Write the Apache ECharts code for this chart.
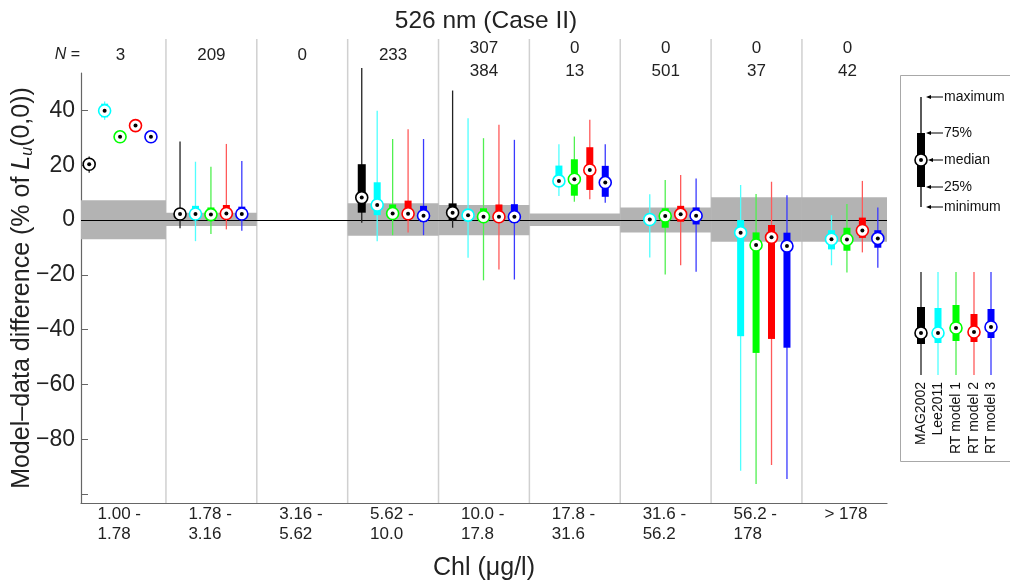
<!DOCTYPE html>
<html>
<head>
<meta charset="utf-8">
<script src="https://cdn.jsdelivr.net/npm/echarts@6.0.0/dist/echarts.min.js"></script>
<style>
  html, body { margin: 0; padding: 0; background: #fff; }
  #chart { width: 1010px; height: 585px; }
</style>
</head>
<body>
<div id="chart"></div>
<script>
// Chl bins (x categories)
var chlBins = ['1.00 -\n1.78', '1.78 -\n3.16', '3.16 -\n5.62', '5.62 -\n10.0', '10.0 -\n17.8',
               '17.8 -\n31.6', '31.6 -\n56.2', '56.2 -\n178', '> 178'];
// N counts per bin (two rows where given)
var nTop = ['3', '209', '0', '233', '307', '0', '0', '0', '0'];
var nBottom = ['', '', '', '', '384', '13', '501', '37', '42'];
// grey uncertainty band per bin [low, high]
var bandLo = [-7.0, -2.2, null, -5.7, -5.5, -2.2, -4.5, -7.9, -7.9];
var bandHi = [7.2, 2.7, null, 6.1, 5.5, 2.4, 4.6, 8.3, 8.3];

// box stats per bin: [min, q1, median, q3, max]
var mag2002 = [[17.3, 19.3, 20.4, 21.6, 23.2], [-3.0, 0.8, 2.2, 3.8, 28.7], null,
               [-1.0, 2.7, 8.2, 20.4, 55.5], [-2.8, 0.0, 2.7, 6.1, 47.3], null, null, null, null];
var lee2011 = [[36.6, 37.5, 39.9, 42.5, 43.3], [-7.7, 0.5, 2.2, 5.2, 21.3], null,
               [-7.7, 1.8, 5.5, 13.8, 39.9], [-13.8, 0.5, 1.8, 3.0, 37.2], [8.8, 12.2, 14.3, 19.9, 27.7],
               [-13.7, -1.0, 0.2, 1.8, 9.4], [-91.5, -42.4, -4.6, 0.0, 12.8], [-16.5, -10.7, -7.0, -3.7, 1.8]];
var rtModel1 = [[29.2, 29.5, 30.4, 32.3, 32.9], [-5.1, 0.5, 2.0, 4.6, 19.5], null,
                [-5.5, 0.5, 2.4, 5.7, 29.6], [-22.0, -0.6, 1.2, 4.3, 29.9], [6.7, 8.9, 14.9, 22.2, 30.5],
                [-19.9, -2.8, 1.5, 4.3, 14.6], [-96.4, -48.5, -9.1, -4.5, 9.5], [-19.1, -11.2, -7.1, -2.8, 5.9]];
var rtModel2 = [[33.2, 33.5, 34.5, 35.8, 36.3], [-3.4, 0.5, 2.4, 5.5, 27.8], null,
                [-4.5, 1.2, 2.3, 7.1, 33.2], [-18.0, -0.5, 1.2, 5.7, 34.8], [7.6, 11.0, 18.3, 26.6, 36.6],
                [-16.5, -0.6, 2.1, 5.2, 16.5], [-89.4, -43.4, -6.3, -1.8, 14.0], [-11.8, -6.5, -3.8, 0.9, 14.3]];
var rtModel3 = [[29.5, 29.6, 30.4, 31.2, 31.3], [-3.9, 0.3, 2.2, 4.9, 21.6], null,
                [-5.5, -0.6, 1.6, 5.2, 29.6], [-21.7, -1.0, 1.2, 5.8, 29.3], [6.3, 8.5, 13.7, 19.8, 27.7],
                [-18.9, -1.6, 1.6, 4.6, 15.2], [-94.5, -46.6, -9.5, -4.6, 9.1], [-17.4, -10.1, -6.7, -3.7, 4.6]];

var modelNames = ['MAG2002', 'Lee2011', 'RT model 1', 'RT model 2', 'RT model 3'];
var modelData = [mag2002, lee2011, rtModel1, rtModel2, rtModel3];
var modelColors = ['#000000', '#00ffff', '#00ff00', '#ff0000', '#0000ff'];
var whiskerColors = ['#222222', '#50ffff', '#50f050', '#ff5a5a', '#3a3aff'];
var boxOffsets = [-0.345, -0.175, -0.005, 0.165, 0.335];

var FONT = '"Liberation Sans", Arial, Helvetica, sans-serif';

function toRows(arr) {
    var rows = [];
    for (var i = 0; i < arr.length; i++) {
        if (arr[i]) rows.push([i].concat(arr[i]));
    }
    return rows;
}

function boxRenderer(k) {
    return function (params, api) {
        var x = api.value(0) + 0.5 + boxOffsets[k];
        var lo = api.coord([x, api.value(1)]);
        var q1 = api.coord([x, api.value(2)]);
        var med = api.coord([x, api.value(3)]);
        var q3 = api.coord([x, api.value(4)]);
        var hi = api.coord([x, api.value(5)]);
        var w = k === 0 ? 8 : 7;
        return {
            type: 'group',
            children: [
                {type: 'line', shape: {x1: lo[0], y1: lo[1], x2: hi[0], y2: hi[1]},
                 style: {stroke: whiskerColors[k], lineWidth: 1.3}},
                {type: 'rect', shape: {x: q3[0] - w / 2, y: q3[1], width: w, height: q1[1] - q3[1]},
                 style: {fill: modelColors[k]}},
                {type: 'circle', shape: {cx: med[0], cy: med[1], r: 6},
                 style: {fill: '#fff', stroke: modelColors[k], lineWidth: 1.6}},
                {type: 'circle', shape: {cx: med[0], cy: med[1], r: 2}, style: {fill: '#000'}}
            ]
        };
    };
}

var series = [];

// bin separators
series.push({
    type: 'custom', silent: true, z: 1,
    data: [[1], [2], [3], [4], [5], [6], [7], [8]],
    renderItem: function (params, api) {
        var p = api.coord([api.value(0), 0]);
        var bottom = params.coordSys.y + params.coordSys.height;
        return {type: 'line', shape: {x1: p[0], y1: 39, x2: p[0], y2: bottom},
                style: {stroke: '#d0d0d0', lineWidth: 1.5}};
    }
});

// grey band + zero line
var bandRows = [];
for (var i = 0; i < bandLo.length; i++) {
    if (bandLo[i] !== null) bandRows.push([i, bandLo[i], bandHi[i]]);
}
series.push({
    type: 'custom', silent: true, z: 2, clip: true,
    data: bandRows,
    renderItem: function (params, api) {
        var i = api.value(0);
        var a = api.coord([i, api.value(2)]);
        var b = api.coord([i + 1, api.value(1)]);
        return {type: 'rect', shape: {x: a[0], y: a[1], width: b[0] - a[0], height: b[1] - a[1]},
                style: {fill: '#b3b3b3'}};
    },
    markLine: {
        silent: true, symbol: 'none', animation: false,
        label: {show: false},
        lineStyle: {color: '#000', width: 1, type: 'solid'},
        data: [{yAxis: 0}]
    }
});

// N labels above the plot
series.push({
    type: 'custom', silent: true, z: 3,
    data: chlBins.map(function (c, i) { return [i]; }),
    renderItem: function (params, api) {
        var i = api.value(0);
        var cx = api.coord([i + 0.5, 0])[0];
        var txtStyle = {fontSize: 17, fontFamily: FONT, fill: '#222', align: 'center', verticalAlign: 'middle'};
        var kids = [];
        if (nBottom[i]) {
            kids.push({type: 'text', x: cx, y: 48, style: Object.assign({text: nTop[i]}, txtStyle)});
            kids.push({type: 'text', x: cx, y: 71, style: Object.assign({text: nBottom[i]}, txtStyle)});
        } else {
            kids.push({type: 'text', x: cx, y: 55, style: Object.assign({text: nTop[i]}, txtStyle)});
        }
        return {type: 'group', children: kids};
    }
});

for (var k = 0; k < modelData.length; k++) {
    series.push({
        type: 'custom', name: modelNames[k], z: 5 + k,
        data: toRows(modelData[k]),
        renderItem: boxRenderer(k)
    });
}

// legend drawn as graphic elements
function glyph(x, ymin, yq1, ymed, yq3, ymax, color, wcolor, w) {
    return [
        {type: 'line', shape: {x1: x, y1: ymin, x2: x, y2: ymax}, style: {stroke: wcolor, lineWidth: 1.3}},
        {type: 'rect', shape: {x: x - w / 2, y: yq3, width: w, height: yq1 - yq3}, style: {fill: color}},
        {type: 'circle', shape: {cx: x, cy: ymed, r: 6}, style: {fill: '#fff', stroke: color, lineWidth: 1.6}},
        {type: 'circle', shape: {cx: x, cy: ymed, r: 2}, style: {fill: '#000'}}
    ];
}
var legendEls = [
    {type: 'rect', shape: {x: 900.5, y: 75.5, width: 130, height: 386},
     style: {fill: 'none', stroke: '#a8a8a8', lineWidth: 1}}
];
legendEls = legendEls.concat(glyph(921, 207, 187, 160, 133, 97, '#000', '#000', 8));
var keyLabels = [['maximum', 97, 926], ['75%', 133, 926], ['median', 160, 928], ['25%', 187, 926], ['minimum', 207, 926]];
keyLabels.forEach(function (kl) {
    legendEls.push({type: 'line', shape: {x1: kl[2] + 3, y1: kl[1], x2: 943, y2: kl[1]}, style: {stroke: '#000', lineWidth: 1}});
    legendEls.push({type: 'polygon', shape: {points: [[kl[2], kl[1]], [kl[2] + 5, kl[1] - 2], [kl[2] + 5, kl[1] + 2]]}, style: {fill: '#000'}});
    legendEls.push({type: 'text', x: 944, y: kl[1], style: {text: kl[0], fontSize: 14, fontFamily: FONT, fill: '#111', verticalAlign: 'middle'}});
});
var legendX = [921, 938, 956, 974, 991];
var legendBox = [[344, 333, 307], [343, 333, 308], [341, 328, 305], [342, 332, 314], [338, 327, 309]];
for (var m = 0; m < 5; m++) {
    legendEls = legendEls.concat(glyph(legendX[m], 375, legendBox[m][0], legendBox[m][1], legendBox[m][2], 272,
        modelColors[m], whiskerColors[m], m === 0 ? 8 : 7));
    legendEls.push({type: 'text', x: legendX[m], y: 382, rotation: Math.PI / 2,
        style: {text: modelNames[m], fontSize: 14, fontFamily: FONT, fill: '#111', align: 'right', verticalAlign: 'middle'}});
}
legendEls.push({type: 'text', x: 80, y: 55,
    style: {text: '{i|N} =', fontSize: 16, fontFamily: FONT, fill: '#222', align: 'right', verticalAlign: 'middle',
            rich: {i: {fontStyle: 'italic', fontSize: 16, fontFamily: FONT}}}});

var option = {
    animation: false,
    backgroundColor: '#fff',
    title: {
        text: '526 nm (Case II)', left: 481, top: 4, textAlign: 'center',
        textStyle: {fontSize: 24.5, fontWeight: 'normal', fontFamily: FONT, color: '#222'}
    },
    grid: {left: 81, right: 123, top: 73, bottom: 82, outerBoundsMode: 'none', containLabel: false},
    xAxis: {
        type: 'value', min: 0.065, max: 8.936,
        name: 'Chl (\u03bcg/l)', nameLocation: 'middle', nameGap: 53, nameMoveOverlap: false,
        nameTextStyle: {fontSize: 25, fontFamily: FONT, color: '#222'},
        axisLine: {show: true, onZero: false, lineStyle: {color: '#666', width: 1.2}},
        axisTick: {show: false},
        splitLine: {show: false},
        axisLabel: {
            customValues: [0.5, 1.5, 2.5, 3.5, 4.5, 5.5, 6.5, 7.5, 8.5],
            margin: 2, verticalAlign: 'top', fontFamily: FONT, color: '#222',
            formatter: function (v) {
                var idx = Math.round(v - 0.5);
                return chlBins[idx].split('\n').map(function (l) { return '{a|' + l + '}'; }).join('\n');
            },
            rich: {a: {width: 46, align: 'left', fontSize: 17, lineHeight: 19.5, fontFamily: FONT, color: '#222'}}
        }
    },
    yAxis: {
        type: 'value', min: -103.3, max: 53.7,
        name: 'Model\u2013data difference (% of {i|L}{s|u}(0,0))',
        nameLocation: 'middle', nameGap: 45, nameMoveOverlap: false,
        nameTextStyle: {
            fontSize: 25, fontFamily: FONT, color: '#222',
            rich: {
                i: {fontSize: 25, fontStyle: 'italic', fontFamily: FONT, color: '#222'},
                s: {fontSize: 16, fontStyle: 'italic', fontFamily: FONT, color: '#222', padding: [12, 0, 0, 0]}
            }
        },
        axisLine: {show: true, lineStyle: {color: '#666', width: 1.2}},
        axisTick: {show: true, inside: true, length: 7, customValues: [40, 20, 0, -20, -40, -60, -80, -100],
                   lineStyle: {color: '#666'}},
        splitLine: {show: false},
        axisLabel: {
            customValues: [40, 20, 0, -20, -40, -60, -80],
            margin: 6, fontSize: 23, fontFamily: FONT, color: '#222',
            formatter: function (v) { return v < 0 ? '\u2212' + (-v) : String(v); }
        }
    },
    graphic: {elements: legendEls},
    series: series
};

var chart = echarts.init(document.getElementById('chart'), null, {renderer: 'canvas'});
chart.setOption(option);
</script>
</body>
</html>
